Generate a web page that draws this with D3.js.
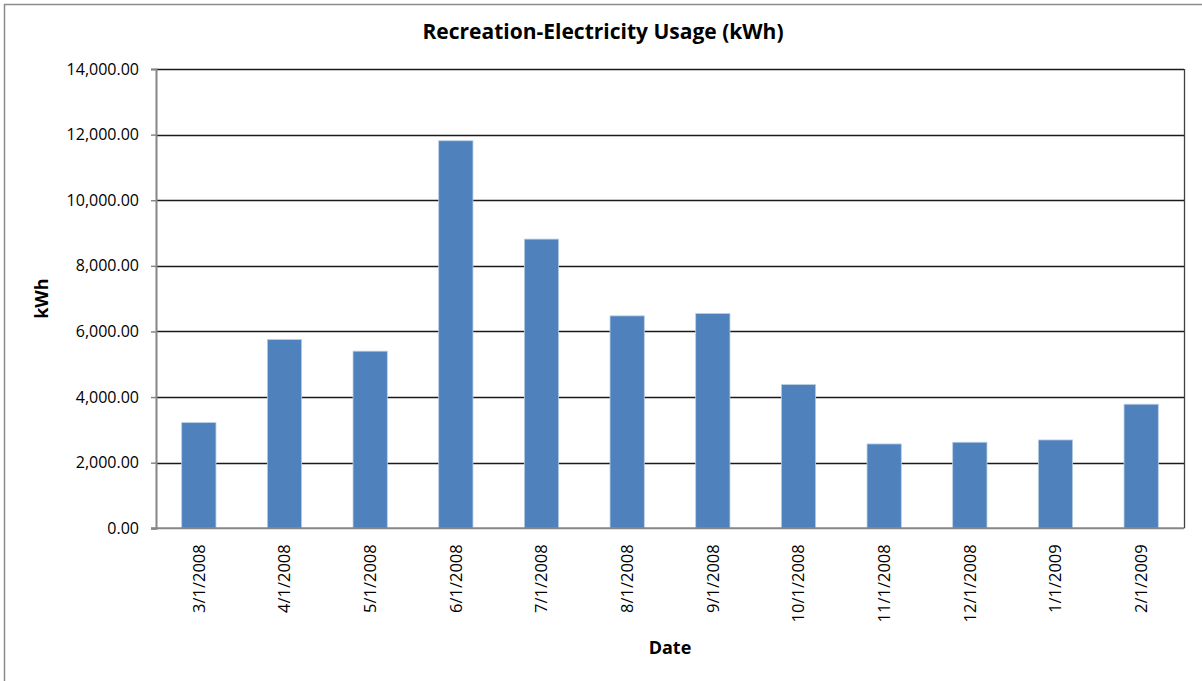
<!DOCTYPE html>
<html>
<head>
<meta charset="utf-8">
<script src="https://cdn.jsdelivr.net/npm/d3@7/dist/d3.min.js"></script>
<style>
  html, body { margin: 0; padding: 0; background: #fff; }
  svg { display: block; }
  text { font-family: "Open Sans", "Noto Sans", sans-serif; fill: #000; }
</style>
</head>
<body>
<svg id="chart" width="1202" height="681"></svg>
<script>
// Monthly electricity usage for the recreation facility
const dates = ["3/1/2008", "4/1/2008", "5/1/2008", "6/1/2008", "7/1/2008", "8/1/2008",
               "9/1/2008", "10/1/2008", "11/1/2008", "12/1/2008", "1/1/2009", "2/1/2009"];
const usageKWh = [3221, 5753, 5399, 11813, 8815, 6475, 6546, 4380, 2571, 2623, 2693, 3782];
const yTicks = [0, 2000, 4000, 6000, 8000, 10000, 12000, 14000];

const chartTitle = "Recreation-Electricity Usage (kWh)";
const xTitle = "Date";
const yTitle = "kWh";

const svg = d3.select("#chart");
const W = 1202, H = 681;
const plot = { left: 156, right: 1184, top: 69, bottom: 528.3 };

// outer chart frame (extends past the right/bottom edges)
svg.append("rect")
  .attr("x", 4.5).attr("y", 4.5)
  .attr("width", W).attr("height", H)
  .attr("fill", "#fff").attr("stroke", "#8c8c8c").attr("stroke-width", 1.5);

const x = d3.scaleBand().domain(dates)
  .range([plot.left, plot.right])
  .paddingInner(0.6).paddingOuter(0.3);

const y = d3.scaleLinear().domain([0, 14000]).range([plot.bottom, plot.top]);

// horizontal gridlines
svg.append("g")
  .selectAll("line")
  .data(yTicks.filter(d => d > 0))
  .join("line")
  .attr("x1", plot.left).attr("x2", plot.right)
  .attr("y1", d => Math.round(y(d)) + 0.5).attr("y2", d => Math.round(y(d)) + 0.5)
  .attr("stroke", "#1a1a1a").attr("stroke-width", 1.3);

// right edge of plot area
svg.append("line")
  .attr("x1", plot.right + 0.5).attr("x2", plot.right + 0.5)
  .attr("y1", Math.round(y(14000))).attr("y2", plot.bottom)
  .attr("stroke", "#404040").attr("stroke-width", 1.3);

// bars
svg.append("g")
  .selectAll("rect")
  .data(dates.map((d, i) => ({ date: d, value: usageKWh[i] })))
  .join("rect")
  .attr("x", d => x(d.date))
  .attr("width", x.bandwidth())
  .attr("y", d => y(d.value))
  .attr("height", d => y(0) - y(d.value))
  .attr("fill", "#4F81BD")
  .attr("stroke", "#b9cde5").attr("stroke-width", 0.8);

// y axis
const yAxis = d3.axisLeft(y)
  .tickValues(yTicks)
  .tickSize(5)
  .tickPadding(12)
  .tickFormat(d3.format(",.2f"));
const gy = svg.append("g")
  .attr("transform", `translate(${plot.left},0)`)
  .call(yAxis);
gy.select(".domain").attr("stroke", "#868686").attr("stroke-width", 2);
gy.selectAll(".tick line").attr("stroke", "#868686").attr("stroke-width", 1.5);
gy.selectAll(".tick text").attr("font-size", 16).attr("fill", "#000")
  .style("font-family", "'Open Sans', sans-serif");

// x axis
const xAxis = d3.axisBottom(x).tickSize(0).tickPadding(0);
const gx = svg.append("g")
  .attr("transform", `translate(0,${plot.bottom})`)
  .call(xAxis);
gx.select(".domain").attr("stroke", "#868686").attr("stroke-width", 2)
  .attr("d", `M${plot.left - 5},0H${plot.right}`);
gx.selectAll(".tick text")
  .attr("font-size", 16.5).attr("fill", "#000")
  .attr("text-anchor", "end")
  .attr("dy", "0.35em")
  .attr("transform", "translate(0,16) rotate(-90)")
  .attr("x", 0).attr("y", 0);

// titles
svg.append("text")
  .attr("x", 603).attr("y", 39)
  .attr("text-anchor", "middle")
  .attr("font-size", 21).attr("font-weight", "bold")
  .text(chartTitle);

svg.append("text")
  .attr("x", (plot.left + plot.right) / 2).attr("y", 654)
  .attr("text-anchor", "middle")
  .attr("font-size", 18).attr("font-weight", "bold")
  .text(xTitle);

svg.append("text")
  .attr("transform", `translate(48,${(plot.top + plot.bottom) / 2}) rotate(-90)`)
  .attr("text-anchor", "middle")
  .attr("font-size", 18).attr("font-weight", "bold")
  .text(yTitle);
</script>
</body>
</html>
